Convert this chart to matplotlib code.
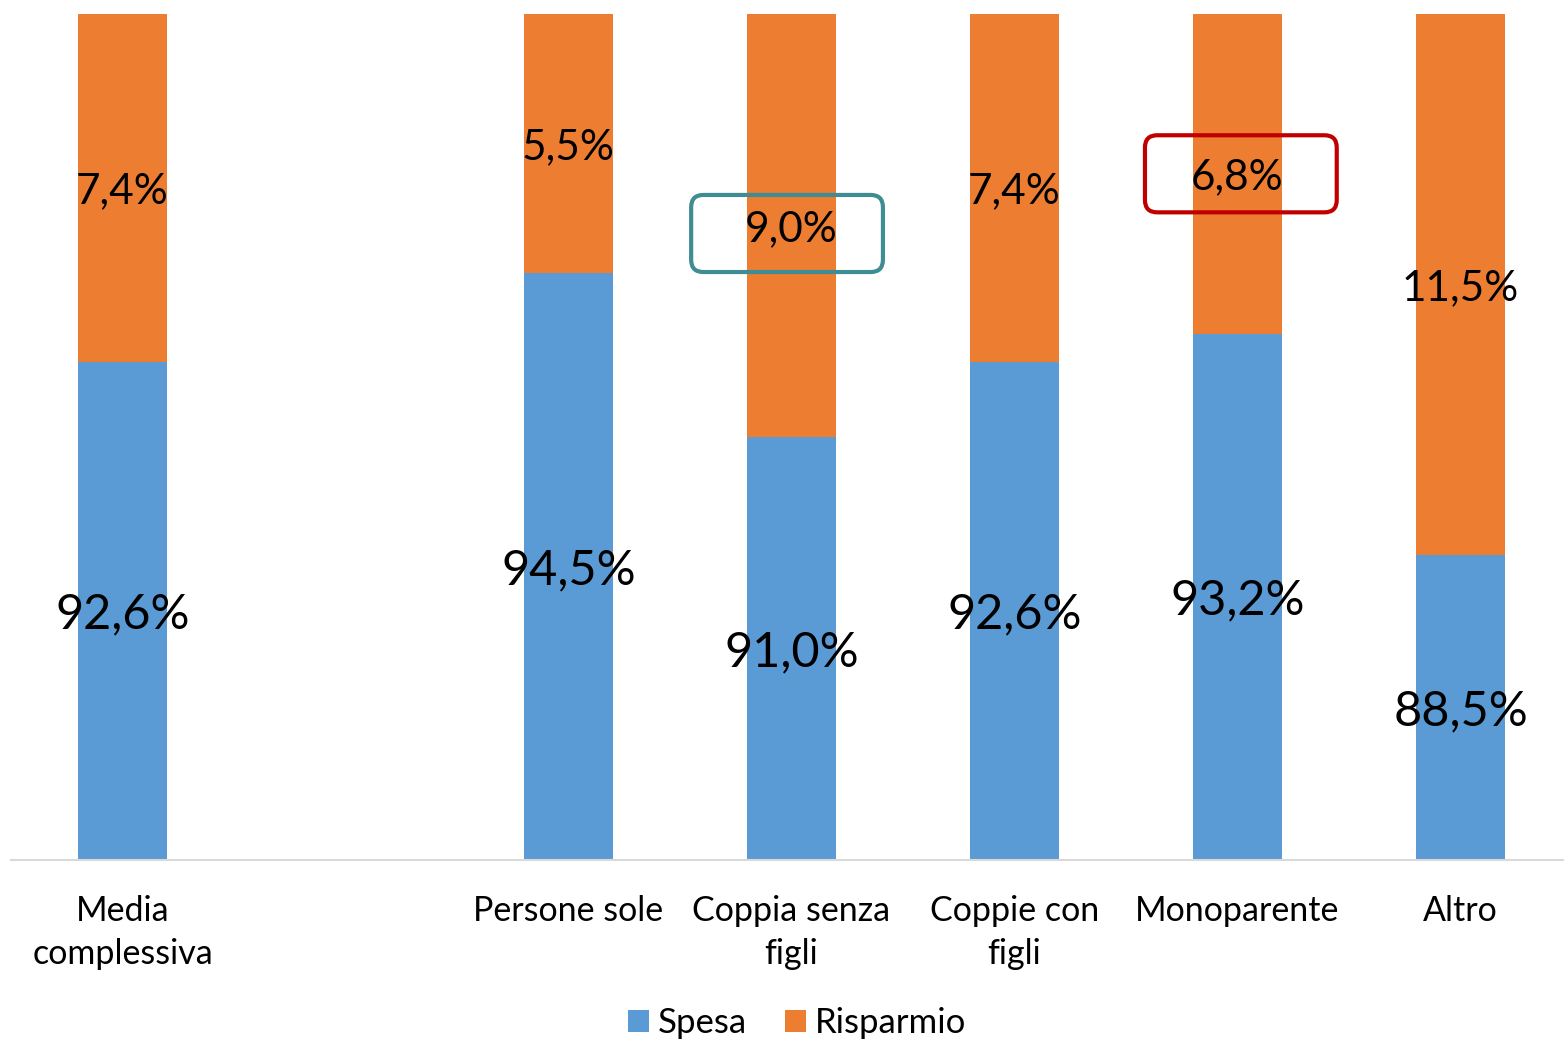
import numpy as np
import matplotlib
matplotlib.use("Agg")
import matplotlib.pyplot as plt
from matplotlib.patches import FancyBboxPatch

plt.rcParams['font.family'] = ['Lato', 'DejaVu Sans']

# data
categories = ["Media\ncomplessiva", "", "Persone sole", "Coppia senza\nfigli",
              "Coppie con\nfigli", "Monoparente", "Altro"]
spesa = [92.6, np.nan, 94.5, 91.0, 92.6, 93.2, 88.5]
risparmio = [7.4, np.nan, 5.5, 9.0, 7.4, 6.8, 11.5]
series_names = ["Spesa", "Risparmio"]

BLUE = '#5B9BD5'
ORANGE = '#ED7D31'
# highlighted boxes: colour, small offset (x, y) of the frame
highlight = {3: ('#3F8D93', -0.02, -0.17), 5: ('#C00000', 0.015, 0.0)}
YMIN, YMAX = 82, 100


def fmt(v):
    return f"{v:.1f}%".replace('.', ',')


fig = plt.figure(figsize=(15.64, 10.41), dpi=100)
ax = fig.add_axes([11 / 1564, 1 - 860 / 1041, 1561 / 1564, 846 / 1041])

x = np.arange(len(categories))
ax.bar(x, spesa, width=0.4, color=BLUE, label=series_names[0], zorder=2)
ax.bar(x, risparmio, width=0.4, bottom=spesa, color=ORANGE,
       label=series_names[1], zorder=2)

ax.set_xlim(-0.5, len(categories) - 0.5)
ax.set_ylim(YMIN, YMAX)

for i, (s, r) in enumerate(zip(spesa, risparmio)):
    if np.isnan(s):
        continue
    ax.text(i, (YMIN + s) / 2, fmt(s), ha='center', va='center_baseline',
            fontsize=35, color='black', zorder=4)
    ymid = (s + min(s + r, YMAX)) / 2
    ax.text(i, ymid, fmt(r), ha='center', va='center_baseline',
            fontsize=30.5, color='black', zorder=4)
    if i in highlight:
        col, dx, dy = highlight[i]
        w, h = 0.86, 1.64
        box = FancyBboxPatch((i + dx - w / 2, ymid + dy - h / 2), w, h,
                             boxstyle='round,pad=0,rounding_size=0.055',
                             mutation_aspect=223 / 47, fc='none',
                             ec=col, lw=3, zorder=5, clip_on=False)
        ax.add_patch(box)

ax.set_xticks(x)
ax.set_xticklabels(categories, fontsize=24.5, linespacing=1.45)
ax.tick_params(axis='x', length=0, pad=25)
ax.set_yticks([])
for sp in ['left', 'right', 'top']:
    ax.spines[sp].set_visible(False)
ax.spines['bottom'].set_color('#D9D9D9')
ax.spines['bottom'].set_linewidth(1.5)

fig.legend(loc='center', bbox_to_anchor=(797 / 1564, 1 - 1023 / 1041),
           ncol=2, frameon=False, fontsize=25, handlelength=0.6,
           handleheight=0.6, handletextpad=0.25, columnspacing=1.1)

fig.savefig('out.png', dpi=100)
